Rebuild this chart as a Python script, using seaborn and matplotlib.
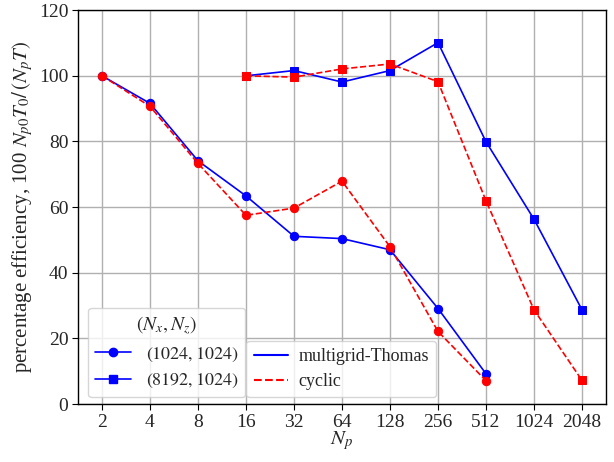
import matplotlib
matplotlib.use("Agg")
import matplotlib.pyplot as plt
from matplotlib.lines import Line2D
import seaborn as sns
import pandas as pd

# data
np_small = [2, 4, 8, 16, 32, 64, 128, 256, 512]
mg_small = [100, 91.6, 74.1, 63.4, 51.1, 50.4, 47.0, 29.1, 9.2]
cy_small = [100, 90.7, 73.3, 57.5, 59.7, 67.9, 47.9, 22.1, 7.1]

np_large = [16, 32, 64, 128, 256, 512, 1024, 2048]
mg_large = [100, 101.6, 98.1, 101.6, 110.1, 79.9, 56.3, 28.7]
cy_large = [100, 99.6, 102.1, 103.6, 98.2, 61.9, 28.7, 7.2]

xticks = [2, 4, 8, 16, 32, 64, 128, 256, 512, 1024, 2048]
yticks = [0, 20, 40, 60, 80, 100, 120]

sns.set_style("ticks")
plt.rcParams["font.family"] = ["Liberation Serif", "DejaVu Serif"]
plt.rcParams["mathtext.fontset"] = "stix"
plt.rcParams["font.size"] = 13

fig = plt.figure(figsize=(6.14, 4.62), dpi=100)
ax = fig.add_axes([0.127, 0.1255, 0.86, 0.8525])

series = [
    (np_small, mg_small, "blue", "o", "-"),
    (np_small, cy_small, "red", "o", "--"),
    (np_large, mg_large, "blue", "s", "-"),
    (np_large, cy_large, "red", "s", "--"),
]
for xs, ys, c, m, ls in series:
    df = pd.DataFrame({"x": xs, "y": ys})
    sns.lineplot(data=df, x="x", y="y", ax=ax, color=c, marker=m, markersize=6,
                 markeredgecolor=c, linestyle=ls, linewidth=1.2, legend=False)

ax.set_xscale("log", base=2)
ax.set_xlim(2 ** 0.5, 2 ** 11.5)
ax.set_ylim(0, 120)
ax.set_xticks(xticks)
ax.set_xticklabels([str(t) for t in xticks])
ax.minorticks_off()
ax.set_yticks(yticks)
ax.grid(True, color="#b0b0b0", linewidth=1.0)
ax.set_axisbelow(True)
for s in ax.spines.values():
    s.set_visible(True)
    s.set_color("black")
    s.set_linewidth(1.0)
ax.tick_params(axis="both", labelsize=14, direction="out", length=4, color="black", pad=3)

ax.set_xlabel("$N_p$", fontsize=15, labelpad=-1)
ax.set_ylabel("percentage efficiency, 100 $N_{p0}T_0/\\,(N_pT)$", fontsize=15, labelpad=3)

h1 = [Line2D([], [], color="blue", marker="o", markersize=6, linewidth=1.2),
      Line2D([], [], color="blue", marker="s", markersize=6, linewidth=1.2)]
leg1 = ax.legend(h1, ["$(1024,1024)$", "$(8192,1024)$"], title="$(N_x,N_z)$",
                 loc="lower left", bbox_to_anchor=(0.012, 0.008), fontsize=13,
                 title_fontsize=14, frameon=True, framealpha=0.8, edgecolor="#cccccc",
                 handlelength=2.0, labelspacing=0.45, borderaxespad=0.2)
ax.add_artist(leg1)
h2 = [Line2D([], [], color="blue", linestyle="-", linewidth=1.5),
      Line2D([], [], color="red", linestyle="--", linewidth=1.5)]
ax.legend(h2, ["multigrid-Thomas", "cyclic"], loc="lower left",
          bbox_to_anchor=(0.312, 0.008), fontsize=13, frameon=True, framealpha=0.8,
          edgecolor="#cccccc", handlelength=1.9, handletextpad=0.6,
          labelspacing=0.45, borderaxespad=0.2)

fig.savefig("out.png", dpi=100)
